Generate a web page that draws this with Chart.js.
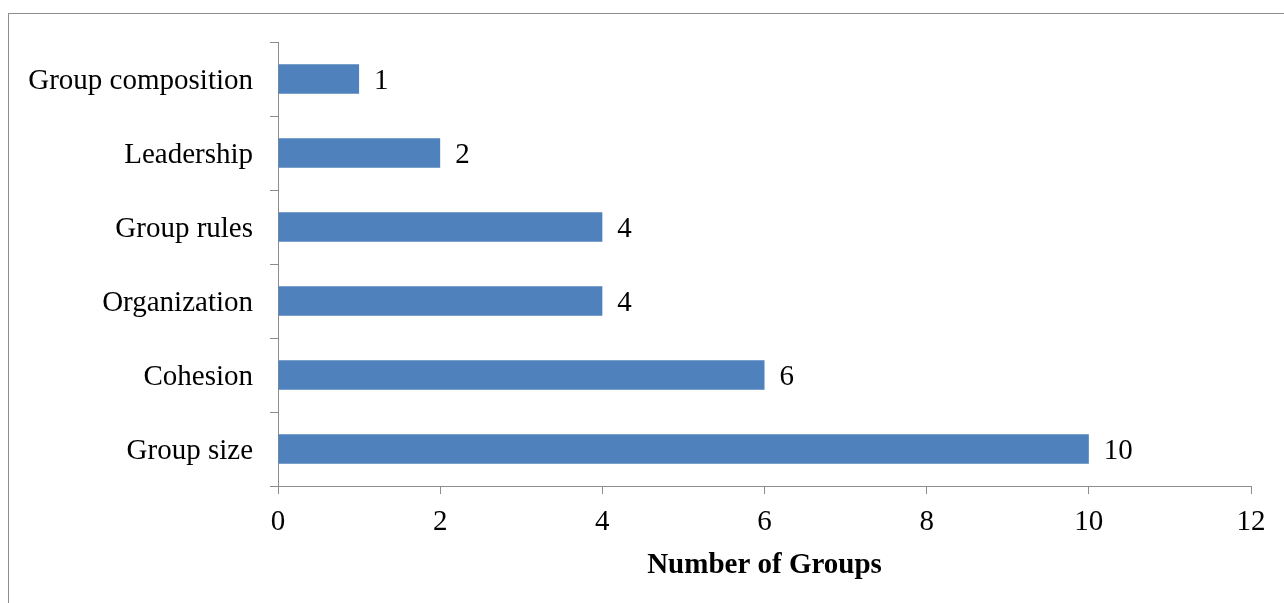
<!DOCTYPE html>
<html>
<head>
<meta charset="utf-8">
<script src="https://cdn.jsdelivr.net/npm/chart.js@4/dist/chart.umd.min.js"></script>
<style>
  html, body { margin: 0; padding: 0; background: #fff; overflow: hidden; }
  #wrap { position: relative; width: 1284px; height: 603px; }
  #frame { position: absolute; left: 8px; top: 13px; width: 1400px; height: 800px; border: 1px solid #8c8c8c; box-sizing: border-box; }
  canvas { position: absolute; left: 0; top: 0; }
</style>
</head>
<body>
<div id="wrap">
  <div id="frame"></div>
  <canvas id="c" width="1284" height="603"></canvas>
</div>
<script>
const categories = ["Group composition", "Leadership", "Group rules", "Organization", "Cohesion", "Group size"];
const groupCounts = [1, 2, 4, 4, 6, 10];
const xTicks = [0, 2, 4, 6, 8, 10, 12];
const xTitle = "Number of Groups";

const FONT = "'Liberation Serif', 'Times New Roman', Times, serif";
const GRAY = "#8c8c8c";

const valueLabels = {
  id: "valueLabels",
  afterDatasetsDraw(chart) {
    const ctx = chart.ctx;
    const meta = chart.getDatasetMeta(0);
    ctx.save();
    ctx.font = "29px " + FONT;
    ctx.fillStyle = "#000";
    ctx.textAlign = "left";
    ctx.textBaseline = "middle";
    meta.data.forEach((bar, i) => {
      ctx.fillText(String(groupCounts[i]), bar.x + 15, bar.y + 2);
    });
    ctx.restore();
  }
};

new Chart(document.getElementById("c"), {
  type: "bar",
  data: {
    labels: categories,
    datasets: [{
      data: groupCounts,
      backgroundColor: "#4F81BD",
      borderWidth: 0,
      categoryPercentage: 1.0,
      barPercentage: 0.4
    }]
  },
  options: {
    indexAxis: "y",
    responsive: false,
    animation: false,
    devicePixelRatio: 1,
    layout: { padding: { left: 0, right: 33, top: 42, bottom: 0 } },
    plugins: {
      legend: { display: false },
      tooltip: { enabled: false }
    },
    scales: {
      x: {
        min: 0,
        max: 12,
        afterBuildTicks(axis) { axis.ticks = xTicks.map(v => ({ value: v })); },
        afterFit(axis) { axis.height = 117; },
        grid: { drawOnChartArea: false, drawTicks: true, tickLength: 8, color: GRAY, lineWidth: 1 },
        border: { display: true, color: GRAY, width: 1 },
        ticks: { color: "#000", font: { family: FONT, size: 29 }, padding: 11, maxRotation: 0 },
        title: {
          display: true,
          text: xTitle,
          color: "#000",
          font: { family: FONT, size: 29, weight: "bold" },
          padding: { top: 0, bottom: 20 }
        }
      },
      y: {
        afterFit(axis) { axis.width = 278; },
        grid: { drawOnChartArea: false, drawTicks: true, tickLength: 8, color: GRAY, lineWidth: 1, offset: true },
        border: { display: true, color: GRAY, width: 1 },
        ticks: { color: "#000", font: { family: FONT, size: 29 }, padding: 17, labelOffset: 2 }
      }
    }
  },
  plugins: [valueLabels]
});
</script>
</body>
</html>
